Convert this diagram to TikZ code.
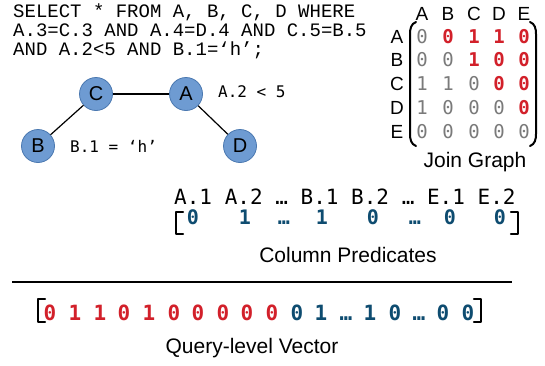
\documentclass[tikz,border=0pt]{standalone}
\usepackage{fontspec}
\setmainfont{Liberation Sans}
\newfontfamily\sqlfont{Liberation Mono}
\newfontfamily\dmono{DejaVu Sans Mono}
\definecolor{nodefill}{HTML}{6E9BD2}
\definecolor{nodeline}{HTML}{4A78B0}
\definecolor{redv}{HTML}{D2202A}
\definecolor{bluev}{HTML}{0E4C70}
\definecolor{grayv}{HTML}{7A7A7A}
\tikzset{
  x=1pt,y=-1pt,
  tnode/.style={circle,fill=nodefill,draw=nodeline,line width=0.8pt,minimum size=33pt,inner sep=0pt,font=\fontsize{20}{24}\selectfont},
  sqltxt/.style={anchor=base west,inner sep=0pt,font=\sqlfont\fontsize{19}{22}\selectfont},
  predlbl/.style={anchor=base west,inner sep=0pt,font=\dmono\fontsize{16}{19}\selectfont},
  hdr/.style={anchor=base,inner sep=0pt,font=\fontsize{19}{22}\selectfont},
  gz/.style={anchor=base,inner sep=0pt,text=grayv,font=\dmono\fontsize{19}{22}\selectfont},
  rz/.style={anchor=base,inner sep=0pt,text=redv,font=\dmono\bfseries\fontsize{19}{22}\selectfont},
  bz/.style={anchor=base,inner sep=0pt,text=bluev,font=\dmono\bfseries\fontsize{20}{24}\selectfont},
  qr/.style={anchor=base,inner sep=0pt,text=redv,font=\dmono\bfseries\fontsize{21}{24}\selectfont},
  qb/.style={anchor=base,inner sep=0pt,text=bluev,font=\dmono\bfseries\fontsize{21}{24}\selectfont},
  caption/.style={anchor=base,inner sep=0pt,font=\fontsize{21}{25}\selectfont},
  brk/.style={line width=2.2pt,line join=round,line cap=round},
  paren/.style={line width=2pt,line cap=round},
  edge/.style={line width=1.2pt},
}
\begin{document}
\begin{tikzpicture}
\useasboundingbox (0,0) rectangle (545,365);
% SQL
\node[sqltxt] (q1) at (13,17) {SELECT * FROM A, B, C, D WHERE};
\node[sqltxt] (q2) at (13,36) {A.3=C.3 AND A.4=D.4 AND C.5=B.5};
\node[sqltxt] (q3) at (13,55) {AND A.2<5 AND B.1=‘h’;};
% graph
\node[tnode] (C) at (96,94) {C};
\node[tnode] (A) at (186,94) {A};
\node[tnode] (B) at (38,146) {B};
\node[tnode] (D) at (240,146) {D};
\draw[edge] (C) -- (A);
\draw[edge] (C) -- (B);
\draw[edge] (A) -- (D);
\node[predlbl] (la) at (218,97) {A.2 < 5};
\node[predlbl] (lb) at (70,152) {B.1 = ‘h’};
% join graph matrix
\node[hdr] (hA) at (422,20) {A};
\node[hdr] (hB) at (448,20) {B};
\node[hdr] (hC) at (474,20) {C};
\node[hdr] (hD) at (499,20) {D};
\node[hdr] (hE) at (524,20) {E};
\node[hdr] (rA) at (397,43) {A};
\node[hdr] (rB) at (397,66) {B};
\node[hdr] (rC) at (397,90) {C};
\node[hdr] (rD) at (397,114) {D};
\node[hdr] (rE) at (397,138) {E};
% row A
\node[gz] (m11) at (422,43) {0};
\node[rz] (m12) at (448,43) {0};
\node[rz] (m13) at (474,43) {1};
\node[rz] (m14) at (499,43) {1};
\node[rz] (m15) at (524,43) {0};
% row B
\node[gz] (m21) at (422,66) {0};
\node[gz] (m22) at (448,66) {0};
\node[rz] (m23) at (474,66) {1};
\node[rz] (m24) at (499,66) {0};
\node[rz] (m25) at (524,66) {0};
% row C
\node[gz] (m31) at (422,90) {1};
\node[gz] (m32) at (448,90) {1};
\node[gz] (m33) at (474,90) {0};
\node[rz] (m34) at (499,90) {0};
\node[rz] (m35) at (524,90) {0};
% row D
\node[gz] (m41) at (422,114) {1};
\node[gz] (m42) at (448,114) {0};
\node[gz] (m43) at (474,114) {0};
\node[gz] (m44) at (499,114) {0};
\node[rz] (m45) at (524,114) {0};
% row E
\node[gz] (m51) at (422,138) {0};
\node[gz] (m52) at (448,138) {0};
\node[gz] (m53) at (474,138) {0};
\node[gz] (m54) at (499,138) {0};
\node[gz] (m55) at (524,138) {0};
\draw[paren] (416,22) to[out=200,in=90] (410,34) -- (410,134) to[out=-90,in=160] (416,146);
\draw[paren] (530,22) to[out=-20,in=90] (536,34) -- (536,134) to[out=-90,in=20] (530,146);
\node[caption] (jg) at (475,167) {Join Graph};
% column predicates
\node[anchor=base west,inner sep=0pt,font=\dmono\fontsize{21}{24}\selectfont] (cph) at (174,204) {A.1 A.2 … B.1 B.2 … E.1 E.2};
\node[bz] (c1) at (193,224) {0};
\node[bz] (c2) at (245,224) {1};
\node[bz] (c3) at (284,224) {…};
\node[bz] (c4) at (322,224) {1};
\node[bz] (c5) at (373,224) {0};
\node[bz] (c6) at (415,224) {…};
\node[bz] (c7) at (450,224) {0};
\node[bz] (c8) at (500,224) {0};
\draw[brk] (183,212) -- (176,212) -- (176,234) -- (183,234);
\draw[brk] (511,212) -- (518,212) -- (518,234) -- (511,234);
\node[caption] (cp) at (348,262) {Column Predicates};
% separator
\coordinate (s1) at (12,282);
\coordinate (s2) at (512,282);
\draw[line width=1.2pt] (s1) -- (s2);
% query-level vector
\node[qr] (v1) at (50,320) {0};
\node[qr] (v2) at (75,320) {1};
\node[qr] (v3) at (100,320) {1};
\node[qr] (v4) at (124,320) {0};
\node[qr] (v5) at (149,320) {1};
\node[qr] (v6) at (174,320) {0};
\node[qr] (v7) at (198,320) {0};
\node[qr] (v8) at (223,320) {0};
\node[qr] (v9) at (247,320) {0};
\node[qr] (v10) at (272,320) {0};
\node[qb] (v11) at (297,320) {0};
\node[qb] (v12) at (321,320) {1};
\node[qb] (v13) at (346,320) {…};
\node[qb] (v14) at (370,320) {1};
\node[qb] (v15) at (395,320) {0};
\node[qb] (v16) at (419,320) {…};
\node[qb] (v17) at (443,320) {0};
\node[qb] (v18) at (468,320) {0};
\draw[brk] (45,299) -- (38,299) -- (38,322) -- (45,322);
\draw[brk] (474,299) -- (481,299) -- (481,322) -- (474,322);
\node[caption] (qv) at (252,353) {Query-level Vector};
\end{tikzpicture}
\end{document}
